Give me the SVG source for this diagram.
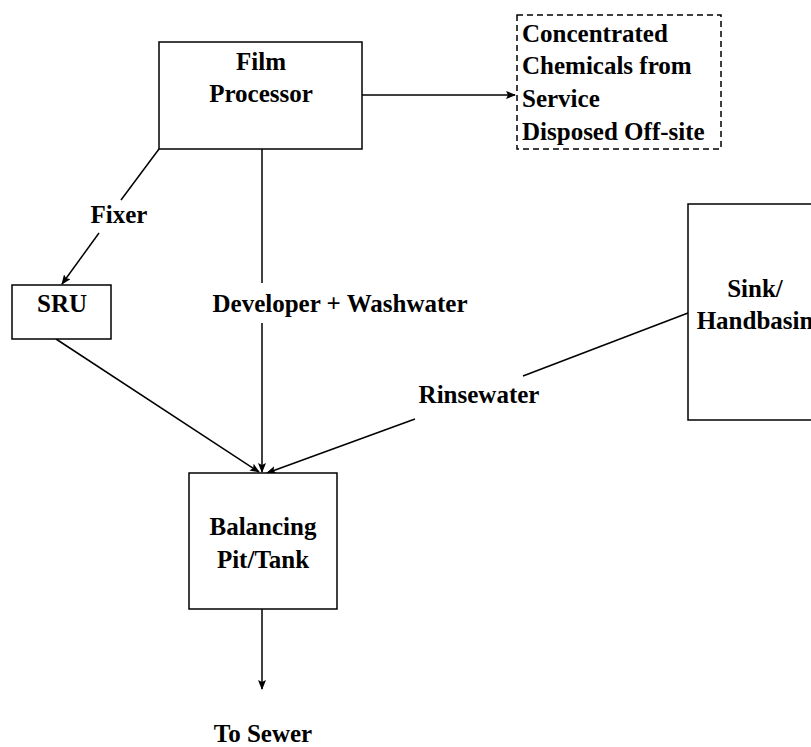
<svg xmlns="http://www.w3.org/2000/svg" width="811" height="747" viewBox="0 0 811 747">
<style>
.box{fill:#fff;stroke:#000;stroke-width:1.5}
.dash{fill:#fff;stroke:#000;stroke-width:1.5;stroke-dasharray:6,4}
.t{font-family:"Liberation Serif","Times New Roman",serif;font-weight:bold;font-size:25px;fill:#000}
.c{text-anchor:middle}
.ln{stroke:#000;stroke-width:1.5;fill:none}
</style>
<defs>
<marker id="ah" markerWidth="10" markerHeight="8" refX="9" refY="4" orient="auto" markerUnits="userSpaceOnUse">
<path d="M0,0 L10,4 L0,8 L2,4 Z" fill="#000"/>
</marker>
</defs>
<rect width="811" height="747" fill="#fff"/>
<g id="connectors">
<line class="ln" x1="362" y1="95" x2="515" y2="95" marker-end="url(#ah)"/>
<line class="ln" x1="159" y1="149" x2="121" y2="200"/>
<line class="ln" x1="99" y1="233" x2="62" y2="284" marker-end="url(#ah)"/>
<line class="ln" x1="262" y1="149" x2="262" y2="283"/>
<line class="ln" x1="262" y1="323" x2="262" y2="472" marker-end="url(#ah)"/>
<line class="ln" x1="56" y1="339" x2="259" y2="472" marker-end="url(#ah)"/>
<line class="ln" x1="688" y1="313" x2="523" y2="376"/>
<line class="ln" x1="415" y1="419" x2="267" y2="473" marker-end="url(#ah)"/>
<line class="ln" x1="262" y1="609" x2="262" y2="689" marker-end="url(#ah)"/>
<text class="t c" x="119" y="223">Fixer</text>
<text class="t c" x="340" y="312">Developer + Washwater</text>
<text class="t c" x="479" y="403">Rinsewater</text>
</g>
<g id="film-processor">
<rect class="box" x="159" y="42" width="203" height="107"/>
<text class="t c" x="261" y="70">Film</text>
<text class="t c" x="261" y="102">Processor</text>
</g>
<g id="concentrated-chemicals">
<rect class="dash" x="517" y="15" width="204" height="134"/>
<text class="t" x="522" y="42">Concentrated</text>
<text class="t" x="522" y="74">Chemicals from</text>
<text class="t" x="522" y="107">Service</text>
<text class="t" x="522" y="140">Disposed Off-site</text>
</g>
<g id="sru">
<rect class="box" x="12" y="285" width="99" height="54"/>
<text class="t c" x="62" y="312">SRU</text>
</g>
<g id="sink">
<rect class="box" x="688" y="204" width="136" height="216"/>
<text class="t c" x="755" y="297">Sink/</text>
<text class="t c" x="755" y="329">Handbasin</text>
</g>
<g id="balancing">
<rect class="box" x="189" y="473" width="148" height="136"/>
<text class="t c" x="263" y="535">Balancing</text>
<text class="t c" x="263" y="568">Pit/Tank</text>
</g>
<g id="sewer">
<text class="t c" x="263" y="742">To Sewer</text>
</g>
</svg>
